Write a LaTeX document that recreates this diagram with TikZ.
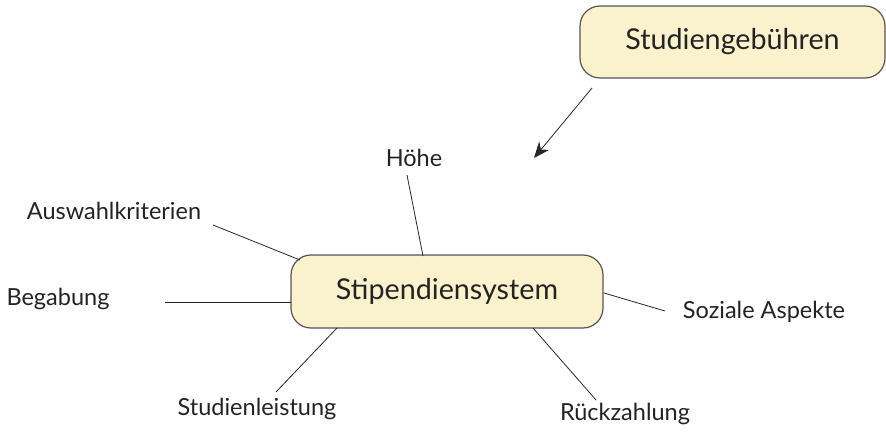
\documentclass[tikz,border=0pt]{standalone}
\usepackage{fontspec}
\setmainfont{Lato}
\usetikzlibrary{arrows.meta}
\definecolor{boxfill}{RGB}{250,241,205}
\definecolor{boxline}{RGB}{85,85,85}
\definecolor{txt}{RGB}{35,35,35}
\begin{document}
\begin{tikzpicture}[x=1pt,y=-1pt,
  box/.style={draw=boxline,line width=1.2pt,fill=boxfill,rounded corners=20pt,text=txt,font=\fontsize{28.7}{32}\selectfont},
  lab/.style={text=txt,font=\fontsize{23.5}{26}\selectfont,inner sep=0pt},
  conn/.style={draw=black!85,line width=0.8pt}]
\useasboundingbox (0,0) rectangle (886,433);
\node[box,minimum width=305pt,minimum height=72pt] (sg) at (732.5,42) {Studiengebühren};
\node[box,minimum width=312pt,minimum height=73pt] (sp) at (447,291.5) {Stipendiensystem};
\node[lab] (hoehe) at (414,158) {Höhe};
\node[lab] (ausw) at (114,211) {Auswahlkriterien};
\node[lab] (beg) at (58,299) {Begabung};
\node[lab] (soz) at (764,312) {Soziale Aspekte};
\node[lab] (stl) at (257,409) {Studienleistung};
\node[lab] (rz) at (625,414) {Rückzahlung};
\coordinate (a1) at (592,88);
\coordinate (a2) at (534,158);
\draw[conn,-{Stealth[length=16pt,width=13pt]}] (a1) -- (a2);
\coordinate (h1) at (407,175); \coordinate (h2) at (423,256);
\coordinate (w1) at (213,225); \coordinate (w2) at (300,260);
\coordinate (b1) at (165,302); \coordinate (b2) at (291,302);
\coordinate (s1) at (665,311); \coordinate (s2) at (604,293);
\coordinate (l1) at (276,392); \coordinate (l2) at (337,328);
\coordinate (r1) at (596,400); \coordinate (r2) at (533,328);
\draw[conn] (h1) -- (h2);
\draw[conn] (w1) -- (w2);
\draw[conn] (b1) -- (b2);
\draw[conn] (s1) -- (s2);
\draw[conn] (l1) -- (l2);
\draw[conn] (r1) -- (r2);
\end{tikzpicture}
\end{document}
